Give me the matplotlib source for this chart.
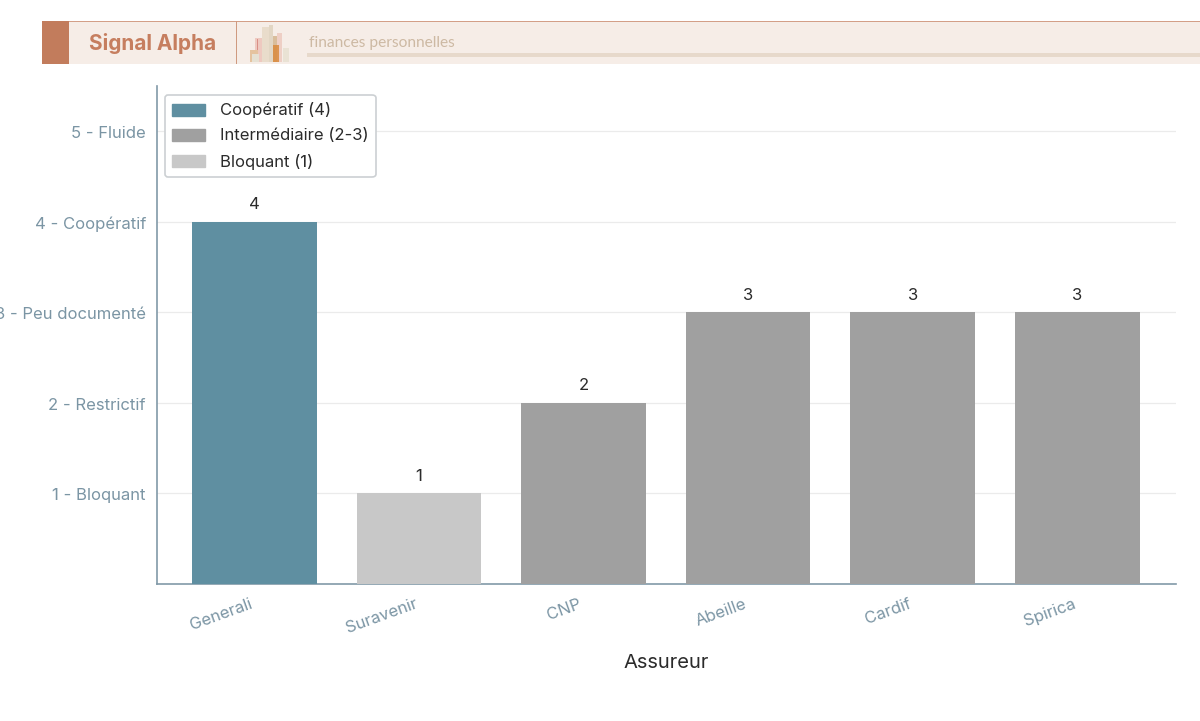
import matplotlib
matplotlib.use('Agg')
import matplotlib.pyplot as plt
from matplotlib.patches import Rectangle, Patch
from matplotlib.transforms import ScaledTranslation

plt.rcParams['font.family'] = ['Inter', 'DejaVu Sans']

assureurs = ['Generali', 'Suravenir', 'CNP', 'Abeille', 'Cardif', 'Spirica']
scores = [4, 1, 2, 3, 3, 3]
niveaux = [1, 2, 3, 4, 5]
niveaux_labels = ['1 - Bloquant', '2 - Restrictif', '3 - Peu documenté', '4 - Coopératif', '5 - Fluide']
legende = ['Coopératif (4)', 'Intermédiaire (2-3)', 'Bloquant (1)']

BLEU = '#5f8fa1'
GRIS = '#a0a0a0'
CLAIR = '#c8c8c8'
TICK = '#7b95a4'
AXE = '#8199a8'
W, H = 1200, 721


def couleur(s):
    if s >= 4:
        return BLEU
    if s == 1:
        return CLAIR
    return GRIS


fig = plt.figure(figsize=(W / 100, H / 100), dpi=100)
ax = fig.add_axes([157 / W, 1 - 584 / H, (1176 - 157) / W, (584 - 86) / H])

x = range(len(assureurs))
barres = ax.bar(x, scores, width=0.757, color=[couleur(s) for s in scores], zorder=3)
ax.bar_label(barres, padding=6.8, fontsize=12, color='#2b2b2b')

ax.set_xlim(-0.592, 5.6)
ax.set_ylim(0, 5.5)
ax.set_yticks(niveaux)
ax.set_yticklabels(niveaux_labels, fontsize=12, color=TICK)
ax.set_xticks(list(x))
ax.set_xticklabels(assureurs, fontsize=12, color=TICK, rotation=20, ha='right', rotation_mode='anchor')
ax.tick_params(axis='both', length=0)
ax.tick_params(axis='y', pad=8)
ax.tick_params(axis='x', pad=9)
ax.grid(axis='y', color='#ebebeb', linewidth=0.9, zorder=0)
ax.set_axisbelow(True)
for s in ['top', 'right']:
    ax.spines[s].set_visible(False)
for s in ['left', 'bottom']:
    ax.spines[s].set_color(AXE)
    ax.spines[s].set_linewidth(1.2)
ax.set_xlabel('Assureur', fontsize=14.5, color='#2b2b2b', labelpad=13)

# decalages en pixels pour coller aux labels
for lab in ax.get_xticklabels():
    lab.set_transform(lab.get_transform() + ScaledTranslation(-5 / 100, 0, fig.dpi_scale_trans))
for lab in ax.get_yticklabels():
    lab.set_transform(lab.get_transform() + ScaledTranslation(0, -1 / 100, fig.dpi_scale_trans))

poignees = [Patch(color=BLEU), Patch(color=GRIS), Patch(color=CLAIR)]
leg = ax.legend(poignees, legende, loc='upper left', bbox_to_anchor=(164.5 / W, 1 - 95 / H),
                bbox_transform=fig.transFigure, fontsize=12, frameon=True, framealpha=1,
                edgecolor='#ccd0d3', borderpad=0.45, labelspacing=0.6, handlelength=2.0,
                handleheight=0.7, handletextpad=0.85, borderaxespad=0)
leg.get_frame().set_linewidth(1.2)
for t in leg.get_texts():
    t.set_color('#2b2b2b')


# bandeau du haut, en pixels
def rect(x0, y0, w, h, c, alpha=1.0):
    fig.add_artist(Rectangle((x0 / W, 1 - (y0 + h) / H), w / W, h / H, transform=fig.transFigure,
                             facecolor=c, edgecolor='none', alpha=alpha))


rect(42, 21, W - 42, 43, '#f6ede7')
rect(42, 21, W - 42, 1, '#d39f87')
rect(42, 21, 27, 43, '#c27c5c')
rect(236, 21, 1, 43, '#cf9a80')
rect(307, 53, W - 307, 4, '#e7d9cb')
# petit logo
rect(255, 38, 7, 24, '#eec9c0')
rect(257, 39, 1, 17, '#d98f86')
rect(250, 50, 8, 12, '#e5c39f')
rect(252, 54, 7, 8, '#e6e1d3')
rect(262, 27, 7, 35, '#e9dccb')
rect(269, 25, 4, 37, '#e2d6c4')
rect(273, 36, 5, 26, '#d9bd9b')
rect(277, 33, 5, 29, '#eecfc5')
rect(273, 45, 6, 17, '#d98a3d', 0.85)
rect(283, 48, 6, 14, '#e9e2d4')

fig.text(89 / W, 1 - 43 / H, 'Signal Alpha', fontsize=15, fontweight='bold', color='#c67e5f',
         family=['Inter', 'DejaVu Sans'], va='center')
fig.text(309 / W, 1 - 43 / H, 'finances personnelles', fontsize=11.15, color='#cdb9a3',
         family=['Lato', 'DejaVu Sans'], va='center')

fig.savefig('out.png', dpi=100)
